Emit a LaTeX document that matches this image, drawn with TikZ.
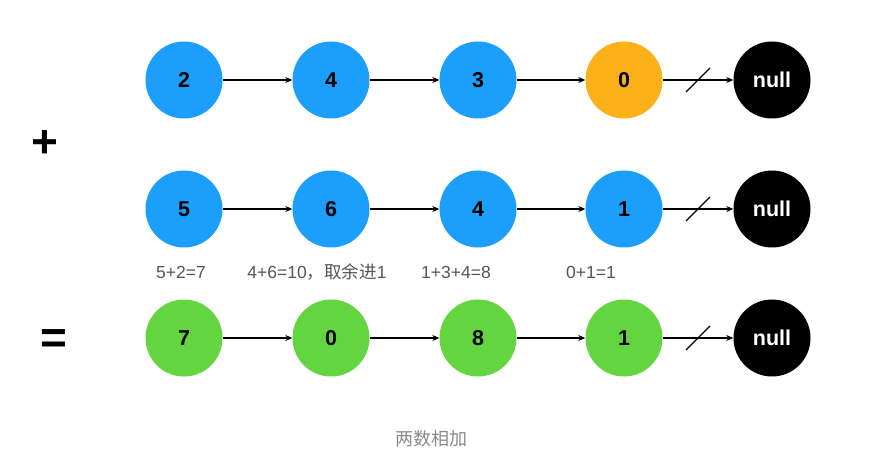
\documentclass[tikz,border=0pt]{standalone}
\usepackage{fontspec}
\setmainfont{Liberation Sans}
\newfontfamily\cjk{Noto Sans CJK SC}
\usetikzlibrary{arrows.meta}
\definecolor{nblue}{HTML}{1C9EFC}
\definecolor{norange}{HTML}{FDB118}
\definecolor{ngreen}{HTML}{62D540}
\definecolor{lblgray}{HTML}{555555}
\definecolor{capgray}{HTML}{8A8A8A}
\tikzset{
  lnode/.style={circle, minimum size=77pt, inner sep=0pt, font=\fontsize{21.5}{21.5}\selectfont\bfseries},
  bluen/.style={lnode, fill=nblue},
  orangen/.style={lnode, fill=norange},
  greenn/.style={lnode, fill=ngreen},
  nulln/.style={lnode, fill=black, text=white},
  link/.style={draw=black, line width=1.2pt, -{Stealth[length=7pt,width=6pt]}},
  sumlbl/.style={text=lblgray, font=\fontsize{17.5}{17.5}\selectfont},
  opsym/.style={font=\fontsize{46}{46}\selectfont\bfseries},
}
\begin{document}
\begin{tikzpicture}[x=1pt,y=-1pt]
\useasboundingbox (0,0) rectangle (879,465);
% row 1
\node[bluen] (a1) at (184,80) {2};
\node[bluen] (a2) at (331,80) {4};
\node[bluen] (a3) at (478,80) {3};
\node[orangen] (a4) at (624,80) {0};
\node[nulln] (a5) at (772,80) {null};
% row 2
\node[bluen] (b1) at (184,209) {5};
\node[bluen] (b2) at (331,209) {6};
\node[bluen] (b3) at (478,209) {4};
\node[bluen] (b4) at (624,209) {1};
\node[nulln] (b5) at (772,209) {null};
% row 3
\node[greenn] (c1) at (184,338) {7};
\node[greenn] (c2) at (331,338) {0};
\node[greenn] (c3) at (478,338) {8};
\node[greenn] (c4) at (624,338) {1};
\node[nulln] (c5) at (772,338) {null};
% links
\foreach \r in {a,b,c}{
  \draw[link] (\r1) -- (\r2);
  \draw[link] (\r2) -- (\r3);
  \draw[link] (\r3) -- (\r4);
  \draw[link] (\r4) -- (\r5) coordinate[pos=0.5] (\r m);
  \draw[line width=1.2pt] ([shift={(-12,12)}]\r m) -- ([shift={(12,-12)}]\r m);
}
% operators
\node[opsym] (plus) at (44.5,144) {+};
\node[opsym] (eq) at (54,342) {=};
% sum labels
\node[sumlbl] (s1) at (181,272) {5+2=7};
\node[sumlbl] (s2) at (317,272) {4+6=10{\cjk ，取余进}1};
\node[sumlbl] (s3) at (456,272) {1+3+4=8};
\node[sumlbl] (s4) at (591,272) {0+1=1};
% caption
\node[text=capgray, font=\fontsize{18}{18}\selectfont\cjk] (cap) at (431,439) {两数相加};
\end{tikzpicture}
\end{document}
